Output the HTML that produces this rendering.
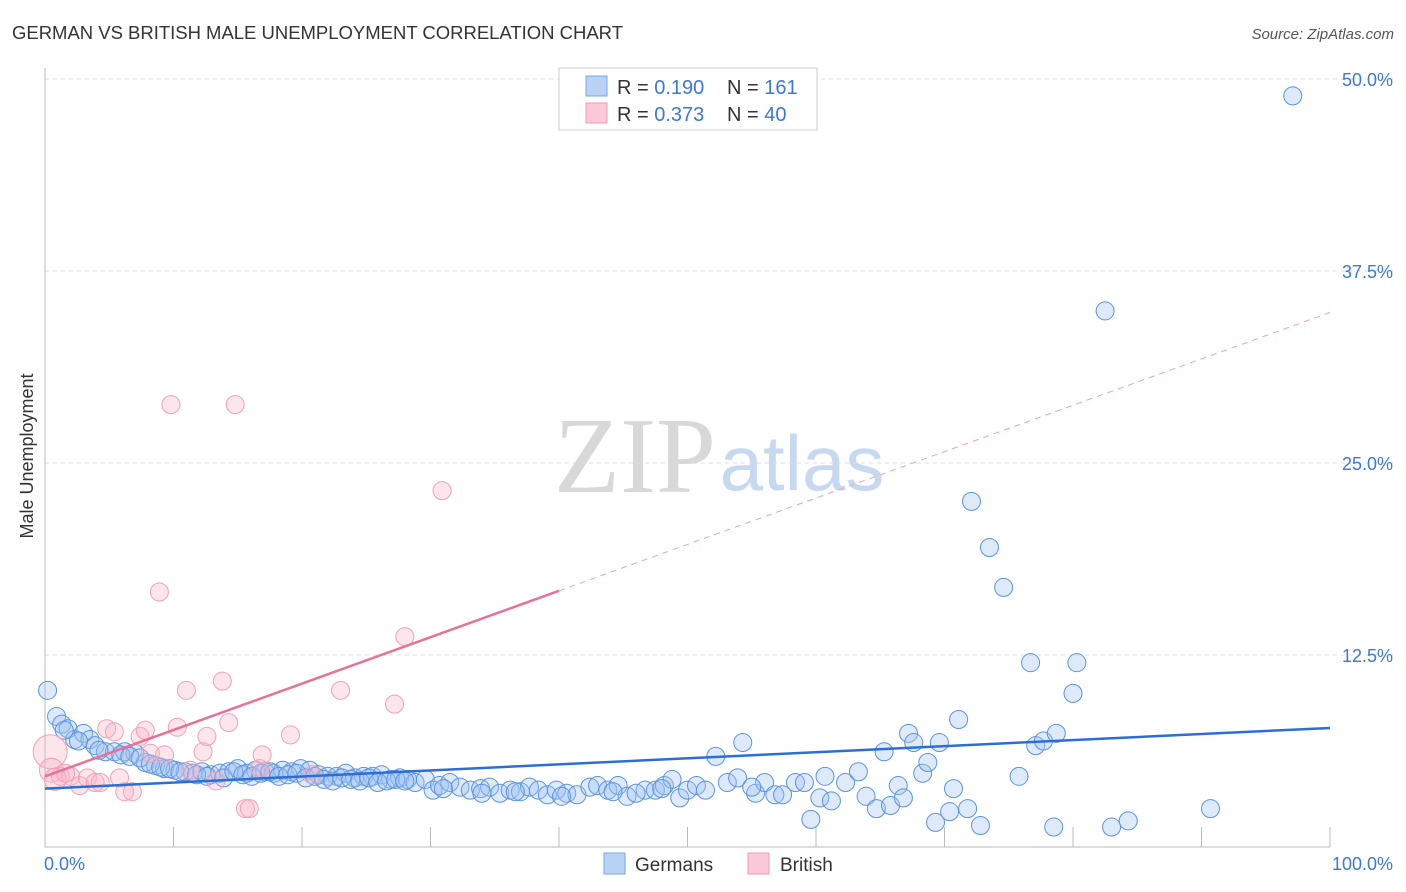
<!DOCTYPE html>
<html><head><meta charset="utf-8"><style>
body{margin:0;background:#fff;font-family:"Liberation Sans",sans-serif;}
#c{position:relative;width:1406px;height:892px;overflow:hidden;}
</style></head><body>
<div id="c">
<svg id="s" width="1406" height="892" xmlns="http://www.w3.org/2000/svg">
<text x="12" y="39" font-size="18.5" fill="#333" textLength="611">GERMAN VS BRITISH MALE UNEMPLOYMENT CORRELATION CHART</text>
<text x="1394" y="39" font-size="15" fill="#555" font-style="italic" text-anchor="end">Source: ZipAtlas.com</text>
<text x="635" y="492" font-size="108" fill="#d8d8d8" font-family="Liberation Serif,serif" text-anchor="middle">ZIP</text>
<text x="802" y="490" font-size="78" fill="#c6d9f1" text-anchor="middle">atlas</text>
<text transform="translate(33,456) rotate(-90)" font-size="18" fill="#333" text-anchor="middle">Male Unemployment</text>
<g id="grid"></g><g id="marks"></g>
<rect x="559" y="68" width="258" height="62" fill="#fff" stroke="#ccc"/>
<rect x="586" y="76" width="21" height="20" fill="#b8d3f5" stroke="#7aa6e6"/>
<rect x="586" y="103" width="21" height="20" fill="#fbc9d7" stroke="#f09ab4"/>
<text x="617" y="94" font-size="20" fill="#333">R = <tspan fill="#3b78d8">0.190</tspan><tspan x="727">N = </tspan><tspan fill="#3b78d8">161</tspan></text>
<text x="617" y="121" font-size="20" fill="#333">R = <tspan fill="#3b78d8">0.373</tspan><tspan x="727">N = </tspan><tspan fill="#3b78d8">40</tspan></text>
<rect x="604" y="853" width="21" height="21" fill="#b8d3f5" stroke="#7aa6e6"/>
<text x="635" y="871" font-size="19" fill="#333">Germans</text>
<rect x="748" y="853" width="21" height="21" fill="#fbc9d7" stroke="#f09ab4"/>
<text x="780" y="871" font-size="19" fill="#333">British</text>
</svg></div>
<script>
const yTicks=[12.5,25,37.5,50];
const yTickLabels=["12.5%","25.0%","37.5%","50.0%"];
const xEndLabels=["0.0%","100.0%"];
const blueX=[0.2,0.9,1.3,1.8,2.3,3.0,3.5,3.9,4.7,5.4,6.2,7.0,7.8,8.6,9.3,10.1,10.9,11.5,12.2,12.9,13.6,14.3,15.0,15.7,16.4,17.1,17.8,18.5,19.2,19.9,20.6,21.3,22.0,22.7,23.4,24.1,24.8,25.5,26.2,26.9,27.6,28.2,28.8,29.6,30.2,30.7,31.5,32.3,33.1,33.9,34.6,35.4,36.2,37.0,37.7,38.4,39.1,39.8,40.6,41.4,42.4,43.0,43.8,44.6,45.3,46.7,47.5,48.2,48.8,49.4,50.0,50.7,51.4,52.2,53.1,53.9,54.3,55.3,56.0,56.8,57.4,58.4,59.1,59.6,60.3,60.7,61.2,62.3,63.3,63.9,64.7,65.3,65.8,66.4,66.8,67.2,67.6,68.3,68.7,69.3,69.6,70.4,70.7,71.1,71.8,72.1,72.8,73.5,74.6,75.8,76.7,77.1,77.7,78.5,78.7,80.0,80.3,82.5,83.0,84.3,90.7,97.1,1.5,2.6,4.2,5.9,6.6,7.4,8.2,9.0,9.7,10.5,11.8,12.6,13.9,14.7,15.4,16.1,16.8,17.5,18.2,18.9,19.6,20.3,21.0,21.7,22.4,23.1,23.8,24.5,25.2,25.9,26.6,27.3,28.0,31.0,34.0,36.6,40.2,44.2,46.0,48.0,55.0];
const blueY=[10.2,8.5,8.0,7.7,7.0,7.4,7.0,6.6,6.2,6.2,6.2,6.1,5.5,5.3,5.1,5.0,4.9,4.8,4.9,4.7,4.8,4.9,5.1,4.8,5.0,4.9,4.8,5.0,4.9,5.1,5.0,4.7,4.6,4.6,4.8,4.5,4.6,4.6,4.7,4.4,4.5,4.4,4.2,4.4,3.7,4.0,4.2,3.9,3.7,3.8,3.9,3.5,3.7,3.6,3.9,3.7,3.4,3.7,3.5,3.4,3.9,4.0,3.7,4.0,3.3,3.7,3.7,4.0,4.4,3.2,3.7,4.0,3.7,5.9,4.2,4.5,6.8,3.5,4.2,3.4,3.4,4.2,4.2,1.8,3.2,4.6,3.0,4.2,4.9,3.3,2.5,6.2,2.7,4.0,3.2,7.4,6.8,4.8,5.5,1.6,6.8,2.3,3.8,8.3,2.5,22.5,1.4,19.5,16.9,4.6,12.0,6.6,6.9,1.3,7.4,10.0,12.0,34.9,1.3,1.7,2.5,48.9,7.6,6.9,6.3,6.0,5.9,5.8,5.4,5.2,5.1,4.9,4.7,4.6,4.5,4.9,4.7,4.6,4.8,4.9,4.6,4.7,4.8,4.5,4.6,4.4,4.3,4.5,4.4,4.3,4.5,4.2,4.3,4.4,4.3,3.8,3.5,3.6,3.3,3.6,3.5,3.8,3.9];
const pinkX=[0.4,0.5,1.2,2.0,2.7,3.3,3.9,4.3,4.8,5.4,5.8,6.2,6.8,7.4,7.8,8.2,9.3,8.9,9.8,10.3,11.0,11.3,12.3,12.6,13.3,13.8,14.3,14.8,15.6,15.9,16.9,16.7,19.1,20.8,23.0,27.2,28.0,30.9,0.8,1.6];
const pinkY=[6.2,5.0,4.6,4.6,4.0,4.5,4.2,4.2,7.7,7.5,4.5,3.6,3.6,7.2,7.6,6.1,6.0,16.6,28.8,7.8,10.2,5.0,6.2,7.2,4.3,10.8,8.1,28.8,2.5,2.5,6.0,5.1,7.3,4.7,10.2,9.3,13.7,23.2,4.4,4.8];
const pinkR=[17,12,9,9,9,9,9,9,9,9,9,9,9,9,9,9,9,9,9,9,9,9,9,9,9,9,9,9,9,9,9,9,9,9,9,9,9,9,11,9];
const blueFit=[3.8,7.75];
const pinkFit=[4.6,34.8];
const NS="http://www.w3.org/2000/svg";
const X0=45,X1=1330,Y0=847,YS=15.36;
function sx(v){return X0+(X1-X0)*v/100;}
function sy(v){return Y0-v*YS;}
function mk(t,a,p){const e=document.createElementNS(NS,t);for(const k in a)e.setAttribute(k,a[k]);p.appendChild(e);return e;}
const grid=document.getElementById('grid'),marks=document.getElementById('marks');
yTicks.forEach((t,i)=>{
  const l=mk('line',{x1:45,x2:1393,y1:sy(t),y2:sy(t),stroke:'#ddd','stroke-dasharray':'4,4'},grid);
  
  
  const tx=mk('text',{x:1393,y:sy(t)+7,'font-size':18,fill:'#3b78d8','text-anchor':'end'},grid);
  tx.textContent=yTickLabels[i];
  
  
});
const ax=mk('path',{d:`M45 68V${Y0}H1330`,stroke:'#bbb',fill:'none'},grid);


for(let i=1;i<=10;i++){const tk=mk('line',{x1:sx(i*10),x2:sx(i*10),y1:827,y2:Y0,stroke:'#bbb'},grid);

}
const xl0=mk('text',{x:44,y:870,'font-size':18,fill:'#3b78d8'},grid);xl0.textContent=xEndLabels[0];


const xl1=mk('text',{x:1393,y:870,'font-size':18,fill:'#3b78d8','text-anchor':'end'},grid);xl1.textContent=xEndLabels[1];


blueX.forEach((v,i)=>{const c=mk('circle',{cx:sx(v),cy:sy(blueY[i]),r:9,fill:'rgba(160,196,240,0.35)',stroke:'#5b93e0','stroke-width':1},marks);

});
pinkX.forEach((v,i)=>{const c=mk('circle',{cx:sx(v),cy:sy(pinkY[i]),r:pinkR[i],fill:'rgba(248,180,200,0.35)',stroke:'#f0a0b8','stroke-width':1},marks);

});
const bl=mk('line',{x1:sx(0),y1:sy(blueFit[0]),x2:sx(100),y2:sy(blueFit[1]),stroke:'#2b6fd6','stroke-width':2.5},marks);


const pAt=x=>pinkFit[0]+(pinkFit[1]-pinkFit[0])*x/100;
const pl=mk('line',{x1:sx(0),y1:sy(pAt(0)),x2:sx(40),y2:sy(pAt(40)),stroke:'#e8709a','stroke-width':2.5},marks);


const pd=mk('line',{x1:sx(40),y1:sy(pAt(40)),x2:sx(100),y2:sy(pAt(100)),stroke:'#f0a0b8','stroke-width':1,'stroke-dasharray':'6,5'},marks);


</script>
</body></html>
